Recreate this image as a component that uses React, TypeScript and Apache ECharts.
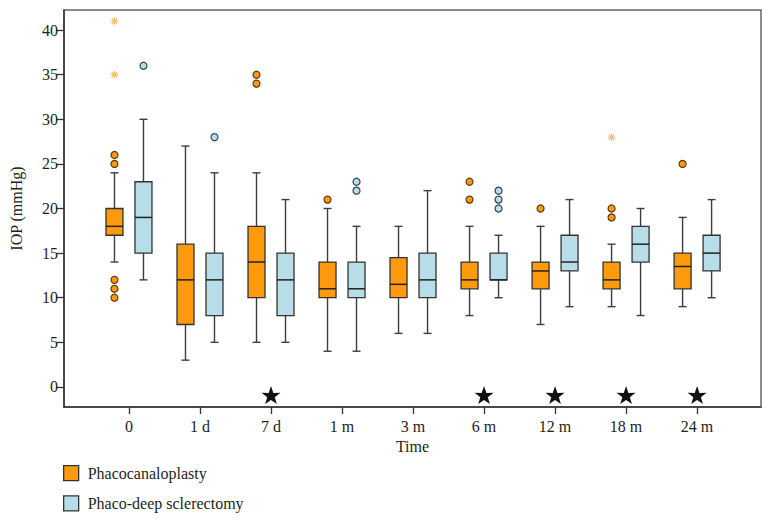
import React, { useEffect, useRef } from "react";
import * as echarts from "echarts";

const categories = ["0", "1 d", "7 d", "1 m", "3 m", "6 m", "12 m", "18 m", "24 m"];
const yTicks = [0, 5, 10, 15, 20, 25, 30, 35, 40];

// [low whisker, Q1, median, Q3, high whisker]
const phacocanaloplastyStats = [
  [14, 17, 18, 20, 24],
  [3, 7, 12, 16, 27],
  [5, 10, 14, 18, 24],
  [4, 10, 11, 14, 20],
  [6, 10, 11.5, 14.5, 18],
  [8, 11, 12, 14, 18],
  [7, 11, 13, 14, 18],
  [9, 11, 12, 14, 16],
  [9, 11, 13.5, 15, 19],
];
const sclerectomyStats = [
  [12, 15, 19, 23, 30],
  [5, 8, 12, 15, 24],
  [5, 8, 12, 15, 21],
  [4, 10, 11, 14, 18],
  [6, 10, 12, 15, 22],
  [10, 12, 12, 15, 17],
  [9, 13, 14, 17, 21],
  [8, 14, 16, 18, 20],
  [10, 13, 15, 17, 21],
];
// outliers: [category index, value]
const phacocanaloplastyOutliers = [
  [0, 26], [0, 25], [0, 12], [0, 11], [0, 10],
  [2, 35], [2, 34],
  [3, 21],
  [5, 23], [5, 21],
  [6, 20],
  [7, 20], [7, 19],
  [8, 25],
];
const phacocanaloplastyExtremes = [
  [0, 41], [0, 35], [7, 28],
];
const sclerectomyOutliers = [
  [0, 36],
  [1, 28],
  [3, 23], [3, 22],
  [5, 22], [5, 21], [5, 20],
];
const significantCategories = ["7 d", "6 m", "12 m", "18 m", "24 m"];
const starLevel = -0.9;

const ORANGE = "#ff9a0d";
const BLUE = "#b7dde9";
const FONT = "Liberation Serif";
const TEXT = "#231f20";
const OFFSET = 14.5;
const BOX_W = 17;
const CAP = 4;

const STAR =
  "path://M50,0 L61.8,35.1 L97.6,34.5 L68.8,56.7 L79.4,90.5 L50,70 L20.6,90.5 L31.2,56.7 L2.4,34.5 L38.2,35.1 Z";

function boxRenderer(offset: number, fill: string) {
  return (params: any, api: any) => {
    const x = api.value(0);
    const pLow = api.coord([x, api.value(1)]);
    const pQ1 = api.coord([x, api.value(2)]);
    const pMed = api.coord([x, api.value(3)]);
    const pQ3 = api.coord([x, api.value(4)]);
    const pHigh = api.coord([x, api.value(5)]);
    const cx = pLow[0] + offset;
    const lineStyle = { stroke: "#3d3d3d", lineWidth: 1.4 };
    return {
      type: "group",
      children: [
        { type: "line", shape: { x1: cx, y1: pLow[1], x2: cx, y2: pQ1[1] }, style: lineStyle },
        { type: "line", shape: { x1: cx, y1: pQ3[1], x2: cx, y2: pHigh[1] }, style: lineStyle },
        { type: "line", shape: { x1: cx - CAP, y1: pLow[1], x2: cx + CAP, y2: pLow[1] }, style: lineStyle },
        { type: "line", shape: { x1: cx - CAP, y1: pHigh[1], x2: cx + CAP, y2: pHigh[1] }, style: lineStyle },
        {
          type: "rect",
          shape: { x: cx - BOX_W / 2, y: pQ3[1], width: BOX_W, height: pQ1[1] - pQ3[1] },
          style: { fill, stroke: "#333333", lineWidth: 1.3 },
        },
        {
          type: "line",
          shape: { x1: cx - BOX_W / 2, y1: pMed[1], x2: cx + BOX_W / 2, y2: pMed[1] },
          style: { stroke: "#222222", lineWidth: 1.5 },
        },
      ],
    };
  };
}

function asteriskRenderer(offset: number) {
  return (params: any, api: any) => {
    const p = api.coord([api.value(0), api.value(1)]);
    const cx = p[0] + offset;
    const cy = p[1];
    const r = 3.8;
    const st = { stroke: "#f9b864", lineWidth: 1.1 };
    const children: any[] = [];
    for (let k = 0; k < 4; k++) {
      const a = (Math.PI / 4) * k;
      children.push({
        type: "line",
        shape: { x1: cx - r * Math.sin(a), y1: cy - r * Math.cos(a), x2: cx + r * Math.sin(a), y2: cy + r * Math.cos(a) },
        style: st,
      });
    }
    return { type: "group", children };
  };
}

export default function App() {
  const ref = useRef<HTMLDivElement>(null);
  useEffect(() => {
    if (!ref.current) return;
    const chart = echarts.init(ref.current, null, { renderer: "svg" });
    const option: any = {
      animation: false,
      backgroundColor: "#ffffff",
      textStyle: { fontFamily: FONT },
      grid: {
        left: 63, top: 10, right: 11, bottom: 116,
        show: true, borderColor: "#666666", borderWidth: 1.5,
      },
      legend: {
        orient: "vertical",
        left: 63,
        top: 465,
        padding: 0,
        itemWidth: 15,
        itemHeight: 15,
        itemGap: 14,
        icon: "rect",
        selectedMode: false,
        textStyle: { fontFamily: FONT, fontSize: 16, color: TEXT, padding: [0, 0, 0, 4] },
        data: [
          { name: "Phacocanaloplasty", itemStyle: { color: ORANGE, borderColor: "#333", borderWidth: 1.3 } },
          { name: "Phaco-deep sclerectomy", itemStyle: { color: BLUE, borderColor: "#333", borderWidth: 1.3 } },
        ],
      },
      xAxis: {
        type: "value",
        min: -0.915,
        max: 8.9,
        name: "Time",
        nameLocation: "middle",
        nameGap: 27,
        nameTextStyle: { fontFamily: FONT, fontSize: 16, color: TEXT },
        axisLine: { onZero: false, lineStyle: { color: "#333333", width: 1.5 } },
        axisTick: { customValues: categories.map((_, i) => i), length: 7, lineStyle: { color: "#333333", width: 1.3 } },
        axisLabel: {
          customValues: categories.map((_, i) => i),
          formatter: (v: number) => categories[Math.round(v)],
          fontFamily: FONT,
          fontSize: 16,
          color: TEXT,
          margin: 11,
        },
        splitLine: { show: false },
      },
      yAxis: {
        type: "value",
        min: -2.25,
        max: 42.25,
        name: "IOP (mmHg)",
        nameLocation: "middle",
        nameGap: 40,
        nameTextStyle: { fontFamily: FONT, fontSize: 16, color: TEXT },
        axisLine: { show: true, onZero: false, lineStyle: { color: "#333333", width: 1.5 } },
        axisTick: { show: true, customValues: yTicks, length: 8, lineStyle: { color: "#333333", width: 1.3 } },
        axisLabel: { customValues: yTicks, fontFamily: FONT, fontSize: 16, color: TEXT, margin: 6 },
        splitLine: { show: false },
      },
      series: [
        {
          name: "Phacocanaloplasty",
          type: "custom",
          itemStyle: { color: ORANGE },
          renderItem: boxRenderer(-OFFSET, ORANGE),
          encode: { x: 0, y: [1, 2, 3, 4, 5] },
          data: phacocanaloplastyStats.map((s, i) => [i, ...s]),
          z: 2,
        },
        {
          name: "Phaco-deep sclerectomy",
          type: "custom",
          itemStyle: { color: BLUE },
          renderItem: boxRenderer(OFFSET, BLUE),
          encode: { x: 0, y: [1, 2, 3, 4, 5] },
          data: sclerectomyStats.map((s, i) => [i, ...s]),
          z: 2,
        },
        {
          name: "orangeOutliers",
          type: "scatter",
          symbol: "circle",
          symbolSize: 7,
          symbolOffset: [-OFFSET, 0],
          itemStyle: { color: ORANGE, borderColor: "#5a3a10", borderWidth: 1.2, opacity: 1 },
          data: phacocanaloplastyOutliers,
          z: 3,
        },
        {
          name: "blueOutliers",
          type: "scatter",
          symbol: "circle",
          symbolSize: 7,
          symbolOffset: [OFFSET, 0],
          itemStyle: { color: BLUE, borderColor: "#2f4650", borderWidth: 1.2, opacity: 1 },
          data: sclerectomyOutliers,
          z: 3,
        },
        {
          name: "orangeExtremes",
          type: "custom",
          renderItem: asteriskRenderer(-OFFSET),
          encode: { x: 0, y: 1 },
          data: phacocanaloplastyExtremes,
          z: 3,
        },
        {
          name: "significance",
          type: "scatter",
          symbol: STAR,
          symbolSize: [19, 18],
          itemStyle: { color: "#111111", opacity: 1 },
          data: significantCategories.map((c) => [categories.indexOf(c), starLevel]),
          z: 3,
        },
      ],
    };
    chart.setOption(option);
    return () => chart.dispose();
  }, []);
  return (
    <div
      ref={ref}
      style={{ position: "fixed", left: 0, top: 0, width: 772, height: 523, background: "#fff" }}
    />
  );
}
